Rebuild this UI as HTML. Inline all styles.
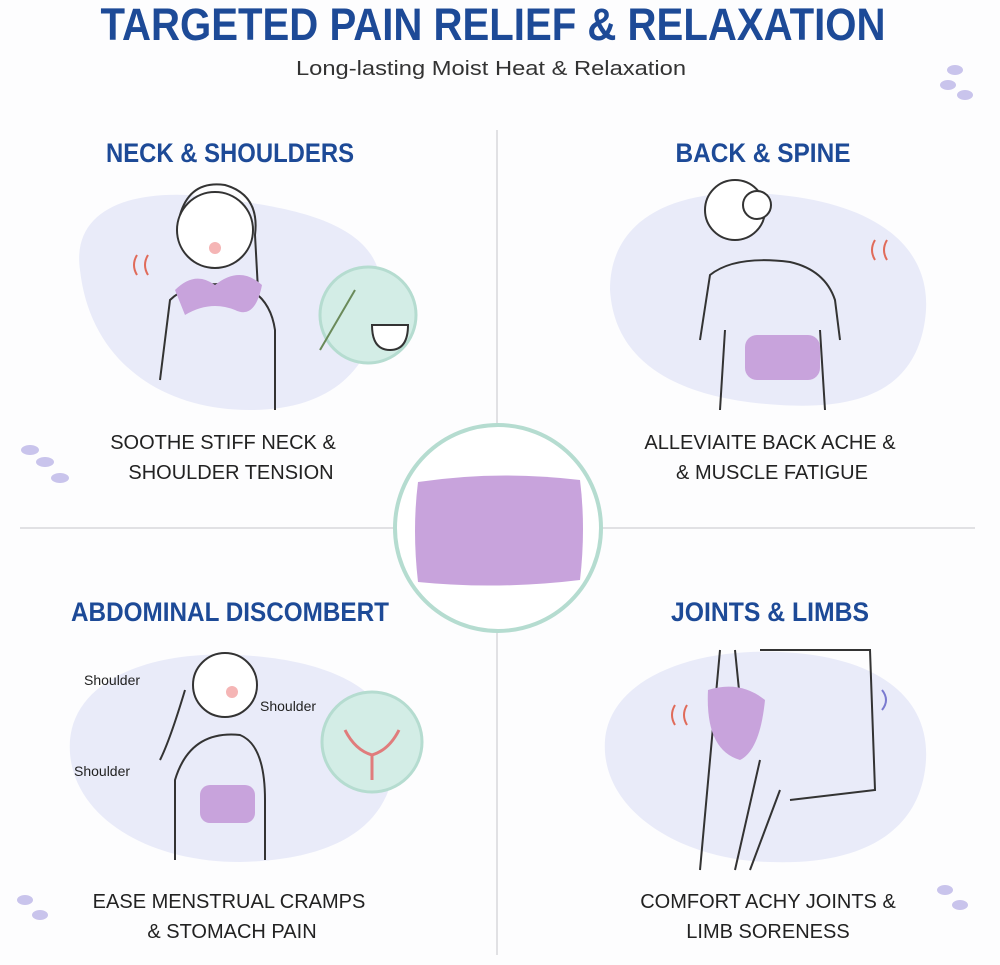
<!DOCTYPE html>
<html><head><meta charset="utf-8"><style>
html,body{margin:0;padding:0;background:#fff}
svg{display:block}
</style></head><body>
<svg width="1000" height="965" viewBox="0 0 1000 965" xmlns="http://www.w3.org/2000/svg" font-family="Liberation Sans, sans-serif">
<rect width="1000" height="965" fill="#fdfdfe"/>
<!-- title -->
<text x="493" y="40" text-anchor="middle" font-size="45" font-weight="bold" fill="#1d4a97" textLength="785" lengthAdjust="spacingAndGlyphs">TARGETED PAIN RELIEF &amp; RELAXATION</text>
<text x="491" y="75" text-anchor="middle" font-size="20" fill="#333" textLength="390" lengthAdjust="spacingAndGlyphs">Long-lasting Moist Heat &amp; Relaxation</text>
<!-- dividers -->
<line x1="497" y1="130" x2="497" y2="425" stroke="#d8d8dc" stroke-width="1.5"/>
<line x1="497" y1="632" x2="497" y2="955" stroke="#d8d8dc" stroke-width="1.5"/>
<line x1="20" y1="528" x2="393" y2="528" stroke="#d8d8dc" stroke-width="1.5"/>
<line x1="603" y1="528" x2="975" y2="528" stroke="#d8d8dc" stroke-width="1.5"/>
<!-- blobs -->
<path d="M80 270 C70 200 150 185 230 200 C310 210 390 230 380 300 C375 370 330 410 250 410 C160 410 90 360 80 270Z" fill="#e9ebf9"/>
<path d="M610 290 C610 210 690 185 780 195 C880 205 935 250 925 320 C915 390 860 410 780 405 C690 400 615 370 610 290Z" fill="#e9ebf9"/>
<path d="M70 740 C75 680 150 650 240 655 C330 660 400 690 395 760 C390 830 330 860 240 862 C140 862 65 810 70 740Z" fill="#e9ebf9"/>
<path d="M605 740 C610 680 690 648 780 652 C880 656 935 700 925 770 C915 840 850 865 770 862 C680 860 600 810 605 740Z" fill="#e9ebf9"/>
<!-- headers -->
<g font-size="27" font-weight="bold" fill="#1d4a97" text-anchor="middle">
<text x="230" y="162" textLength="248" lengthAdjust="spacingAndGlyphs">NECK &amp; SHOULDERS</text>
<text x="763" y="162" textLength="175" lengthAdjust="spacingAndGlyphs">BACK &amp; SPINE</text>
<text x="230" y="621" textLength="318" lengthAdjust="spacingAndGlyphs">ABDOMINAL DISCOMBERT</text>
<text x="770" y="621" textLength="198" lengthAdjust="spacingAndGlyphs">JOINTS &amp; LIMBS</text>
</g>
<!-- captions -->
<g font-size="20" fill="#222" text-anchor="middle">
<text x="223" y="449">SOOTHE STIFF NECK &amp;</text>
<text x="231" y="479">SHOULDER TENSION</text>
<text x="770" y="449">ALLEVIAITE BACK ACHE &amp;</text>
<text x="772" y="479">&amp; MUSCLE FATIGUE</text>
<text x="229" y="908">EASE MENSTRUAL CRAMPS</text>
<text x="232" y="938">&amp; STOMACH PAIN</text>
<text x="768" y="908">COMFORT ACHY JOINTS &amp;</text>
<text x="768" y="938">LIMB SORENESS</text>
</g>
<!-- center circle pillow -->
<circle cx="498" cy="528" r="103" fill="#fff" stroke="#b5dcd0" stroke-width="4"/>
<path d="M418 482 Q498 470 580 480 Q586 528 580 580 Q498 590 418 582 Q412 530 418 482Z" fill="#c8a3dc"/>
<!-- neck figure -->
<g fill="none" stroke="#333" stroke-width="2">
<circle cx="215" cy="230" r="38" fill="#fff"/>
<path d="M180 215 Q190 180 225 185 Q260 195 255 235 L258 290"/>
<path d="M160 380 L170 300 Q190 280 240 285 Q270 295 275 330 L275 410"/>
</g>
<path d="M175 290 Q195 270 215 285 Q240 265 262 285 Q255 320 235 310 Q210 300 185 315Z" fill="#c8a3dc"/>
<circle cx="215" cy="248" r="6" fill="#f5b5b5"/>
<path d="M137 255 q-6 10 0 20 M148 255 q-6 10 0 20" stroke="#e06b5a" stroke-width="2" fill="none"/>
<circle cx="368" cy="315" r="48" fill="#d3ede6" stroke="#b5dcd0" stroke-width="3"/>
<path d="M372 325 h36 q0 25 -18 25 q-18 0 -18 -25Z" fill="#fff" stroke="#333" stroke-width="2"/>
<path d="M320 350 L355 290" stroke="#6a8a5a" stroke-width="2"/>
<!-- back figure -->
<g fill="none" stroke="#333" stroke-width="2">
<circle cx="735" cy="210" r="30" fill="#fff"/>
<circle cx="757" cy="205" r="14" fill="#fff"/>
<path d="M700 340 L710 275 Q735 255 790 262 Q825 270 835 300 L840 340"/>
<path d="M720 410 L725 330 M825 410 L820 330"/>
</g>
<rect x="745" y="335" width="75" height="45" rx="12" fill="#c8a3dc"/>
<path d="M875 240 q-6 10 0 20 M887 240 q-6 10 0 20" stroke="#e06b5a" stroke-width="2" fill="none"/>
<!-- abdominal figure -->
<g fill="none" stroke="#333" stroke-width="2">
<circle cx="225" cy="685" r="32" fill="#fff"/>
<path d="M185 690 Q170 740 160 760 M175 860 L175 780 Q190 730 240 735 Q265 745 265 800 L265 860"/>
</g>
<rect x="200" y="785" width="55" height="38" rx="10" fill="#c8a3dc"/>
<circle cx="232" cy="692" r="6" fill="#f5b5b5"/>
<circle cx="372" cy="742" r="50" fill="#d3ede6" stroke="#b5dcd0" stroke-width="3"/>
<path d="M345 730 q10 20 27 25 q17 -5 27 -25 M372 755 v25" stroke="#e07c7c" stroke-width="3" fill="none"/>
<g font-size="14" fill="#222">
<text x="84" y="685">Shoulder</text>
<text x="260" y="711">Shoulder</text>
<text x="74" y="776">Shoulder</text>
</g>
<!-- legs figure -->
<g fill="none" stroke="#333" stroke-width="2">
<path d="M720 650 L700 870 M735 650 L740 700 M760 650 L870 650 L875 790 L790 800"/>
<path d="M760 760 L735 870 M750 870 L780 790"/>
</g>
<path d="M708 690 Q740 680 765 700 Q760 750 740 760 Q705 750 708 690Z" fill="#c8a3dc"/>
<path d="M675 705 q-6 10 0 20 M687 705 q-6 10 0 20" stroke="#e06b5a" stroke-width="2" fill="none"/>
<path d="M882 690 q8 10 0 20" stroke="#7a7ad0" stroke-width="2" fill="none"/>
<!-- lavender decorations -->
<g fill="#c9c4ec">
<ellipse cx="955" cy="70" rx="8" ry="5"/><ellipse cx="948" cy="85" rx="8" ry="5"/><ellipse cx="965" cy="95" rx="8" ry="5"/>
<ellipse cx="30" cy="450" rx="9" ry="5"/><ellipse cx="45" cy="462" rx="9" ry="5"/><ellipse cx="60" cy="478" rx="9" ry="5"/>
<ellipse cx="25" cy="900" rx="8" ry="5"/><ellipse cx="40" cy="915" rx="8" ry="5"/>
<ellipse cx="945" cy="890" rx="8" ry="5"/><ellipse cx="960" cy="905" rx="8" ry="5"/>
</g>
</svg>
</body></html>
